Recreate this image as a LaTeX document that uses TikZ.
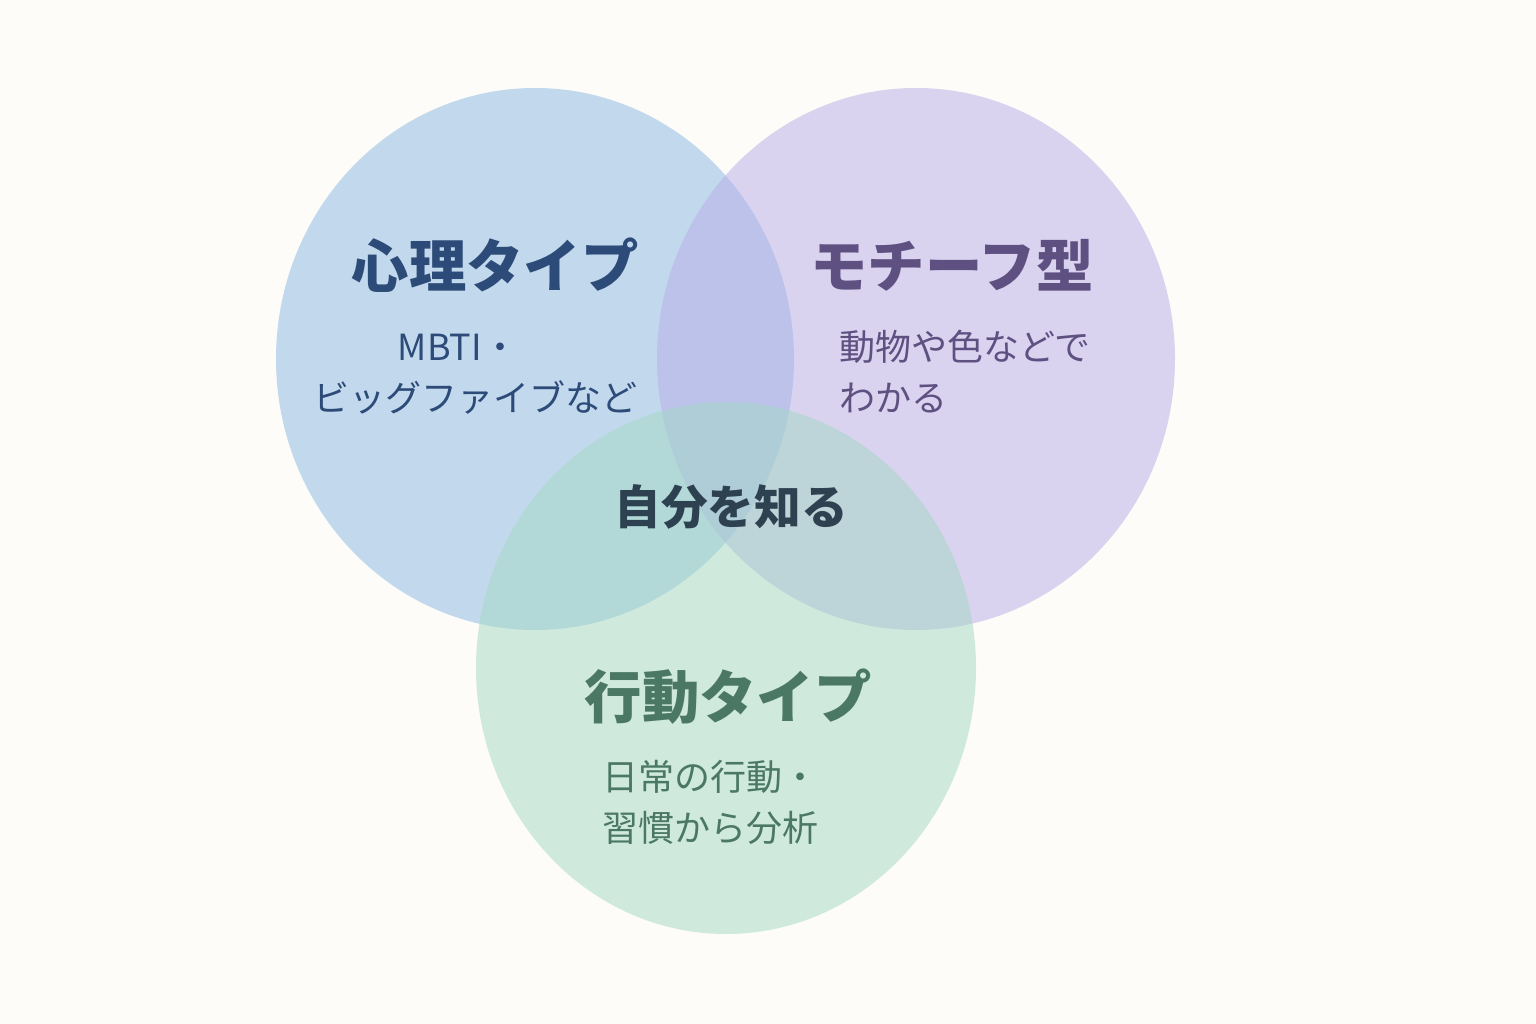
\documentclass[tikz,border=0pt]{standalone}
\usepackage{fontspec}
\setmainfont{Noto Sans CJK JP}
\definecolor{bgcol}{RGB}{253,252,248}
\definecolor{blueset}{RGB}{137,184,228}
\definecolor{purpleset}{RGB}{183,172,232}
\definecolor{greenset}{RGB}{163,216,196}
\definecolor{bluetext}{RGB}{45,75,120}
\definecolor{purpletext}{RGB}{95,80,130}
\definecolor{greentext}{RGB}{75,120,100}
\definecolor{coretext}{RGB}{45,65,80}
\tikzset{every picture/.style={line width=0.75pt}}
\tikzset{
  setfill/.style={fill=#1,fill opacity=0.5,draw=none},
  titletext/.style={font=\bfseries\fontsize{43}{50}\selectfont,inner sep=0.75pt},
  subtext/.style={font=\fontsize{27}{38}\selectfont,inner sep=0.75pt}
}
\begin{document}
\begin{tikzpicture}[x=0.75pt,y=0.75pt,yscale=-1,xscale=1]
        % background
        \fill[bgcol] (0,0) rectangle (1536,1024);
        \useasboundingbox (0,0) rectangle (1536,1024);

        % sets
        \fill[setfill=blueset] (535,359) ellipse (259 and 271) ;
        \fill[setfill=purpleset] (916,359) ellipse (259 and 271) ;
        \fill[setfill=greenset] (726,668) ellipse (250 and 266) ;

        % Text Node
        \node (psyTitle) at (495,265) [titletext,text=bluetext] {心理タイプ};
        \node (psyLineA) at (458,347) [subtext,text=bluetext] {MBTI・};
        \node (psyLineB) at (475,397) [subtext,text=bluetext] {ビッグファイブなど};
        % Text Node
        \node (motifTitle) at (952,265) [titletext,text=purpletext] {モチーフ型};
        \node (motifLineA) at (838,347) [subtext,text=purpletext,anchor=west] {動物や色などで};
        \node (motifLineB) at (838,398) [subtext,text=purpletext,anchor=west] {わかる};
        % Text Node
        \node (actTitle) at (728,697) [titletext,text=greentext] {行動タイプ};
        \node (actLineA) at (601,777) [subtext,text=greentext,anchor=west] {日常の行動・};
        \node (actLineB) at (601,828) [subtext,text=greentext,anchor=west] {習慣から分析};
        % Text Node
        \node (core) at (731,507) [font=\bfseries\fontsize{35}{40}\selectfont,inner sep=0.75pt,text=coretext] {自分を知る};

\end{tikzpicture}
\end{document}
